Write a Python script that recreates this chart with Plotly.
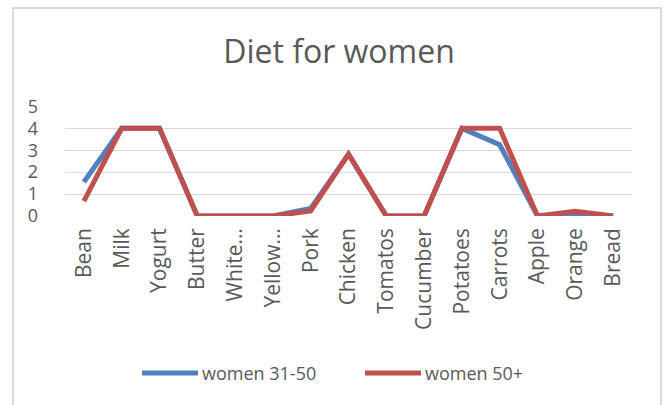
import plotly.graph_objects as go

foods = ["Bean", "Milk", "Yogurt", "Butter", "White…", "Yellow…", "Pork", "Chicken",
         "Tomatos", "Cucumber", "Potatoes", "Carrots", "Apple", "Orange", "Bread"]
women_31_50 = [1.55, 4, 4, 0, 0, 0, 0.35, 2.82, 0, 0, 4, 3.25, 0, 0.05, 0]
women_50_plus = [0.68, 4, 4, 0, 0, 0, 0.23, 2.82, 0, 0, 4, 4, 0, 0.22, 0]

series = [("women 31-50", women_31_50, "#4F81BD"),
          ("women 50+", women_50_plus, "#C0504D")]

FONT = "Open Sans"
TEXT = "#595959"

# plot area in pixels: x 65..632, y 106..216
L, R, T, B = 65, 632, 106, 216
def px(x):
    return (x - L) / (R - L)
def py(y):
    return (B - y) / (B - T)

fig = go.Figure()
for name, vals, color in series:
    fig.add_trace(go.Scatter(x=foods, y=vals, mode="lines", name=name,
                             line=dict(color=color, width=5), showlegend=False))

# legend drawn as line swatches plus labels below the axis labels
legend_items = [(142, 198, "women 31-50", "#4F81BD"), (365, 421, "women 50+", "#C0504D")]
shapes = [dict(type="rect", xref="paper", yref="paper",
               x0=px(13), x1=px(661), y0=py(410), y1=py(8),
               line=dict(color="#D9D9D9", width=2), layer="below")]
annotations = []
for x0, x1, label, color in legend_items:
    shapes.append(dict(type="line", xref="paper", yref="paper",
                       x0=px(x0), x1=px(x1), y0=py(373), y1=py(373),
                       line=dict(color=color, width=5)))
    annotations.append(dict(xref="paper", yref="paper", x=px(x1 + 2), y=py(373),
                            xanchor="left", yanchor="middle", text=label, showarrow=False,
                            font=dict(size=18, color=TEXT, family=FONT)))

fig.update_layout(
    width=664, height=405,
    margin=dict(l=L, r=664 - R, t=T, b=405 - B),
    paper_bgcolor="white", plot_bgcolor="white",
    font=dict(family=FONT, color=TEXT),
    title=dict(text="Diet for women", xref="container", x=339 / 664, xanchor="center",
               y=(405 - 52) / 405, yanchor="middle",
               font=dict(size=32, color=TEXT, family=FONT)),
    showlegend=False,
    xaxis=dict(type="category", range=[-0.5, 14.5], tickangle=-90,
               tickfont=dict(size=21, color=TEXT), showgrid=False, showline=False,
               ticks="", zeroline=False, ticklabelstandoff=7),
    yaxis=dict(range=[0, 5.02], dtick=1, tick0=0, showgrid=True, gridcolor="#D9D9D9",
               gridwidth=1, zeroline=False, showline=False, ticks="",
               ticklabelstandoff=26, tickfont=dict(size=18, color=TEXT)),
    shapes=shapes,
    annotations=annotations,
)

fig.write_html("out.html")
